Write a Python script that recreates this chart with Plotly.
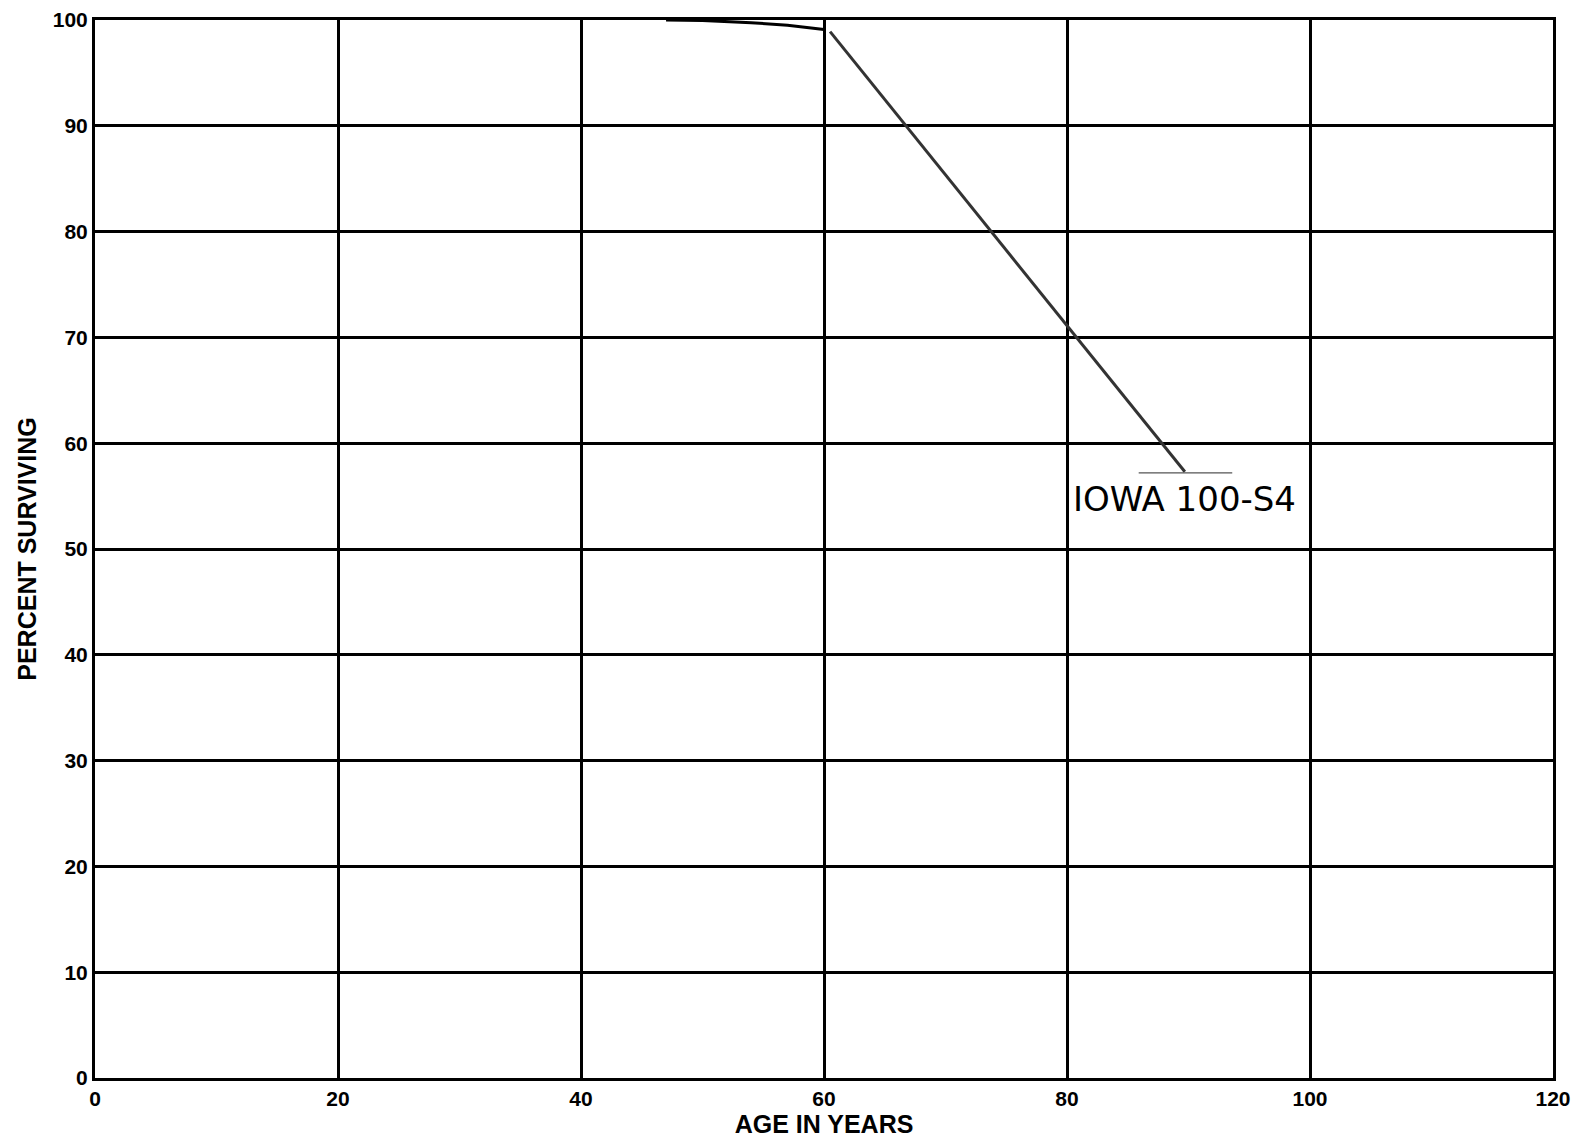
import plotly.graph_objects as go

# Survivor curve
age_top = [47, 50, 54, 57, 60]
surv_top = [100.0, 99.95, 99.75, 99.5, 99.1]
age_drop = [60.5, 65, 70, 75, 80, 85, 89.7]
surv_drop = [98.9, 92.5, 85.4, 78.3, 71.1, 64.0, 57.3]
label_line_x = [85.9, 93.6]
label_line_y = [57.2, 57.2]
label_text = "IOWA 100-S4"

x_ticks = [0, 20, 40, 60, 80, 100, 120]
y_ticks = [0, 10, 20, 30, 40, 50, 60, 70, 80, 90, 100]

fig = go.Figure()
fig.add_trace(go.Scatter(x=age_top, y=surv_top, mode="lines",
                         line=dict(color="black", width=3), showlegend=False))
fig.add_trace(go.Scatter(x=age_drop, y=surv_drop, mode="lines",
                         line=dict(color="#333", width=3), showlegend=False))
fig.add_trace(go.Scatter(x=label_line_x, y=label_line_y, mode="lines",
                         line=dict(color="#555", width=1.2), showlegend=False))
fig.add_annotation(x=80.3, y=54.7, text=label_text, showarrow=False,
                   xanchor="left", yanchor="middle",
                   font=dict(family="DejaVu Sans", size=34, color="black"))

axis_common = dict(showgrid=True, gridcolor="black", gridwidth=3,
                   showline=True, linecolor="black", linewidth=3, mirror=True,
                   zeroline=False, ticks="", automargin=False,
                   ticklabeloverflow="allow",
                   tickfont=dict(family="Liberation Sans", size=21, color="black", weight="bold"))

title_font = dict(family="Liberation Sans", size=25, color="black", weight="bold")

fig.update_xaxes(range=[0, 120], tickvals=x_ticks,
                 title=dict(text="AGE IN YEARS", standoff=7, font=title_font),
                 **axis_common)
fig.update_yaxes(range=[0, 100], tickvals=y_ticks,
                 title=dict(text="PERCENT SURVIVING", standoff=10, font=title_font),
                 **axis_common)

fig.update_layout(width=1573, height=1144, margin=dict(l=95, r=20, t=20, b=66),
                  plot_bgcolor="white", paper_bgcolor="white", hovermode=False)

fig.write_html("out.html", config={"displayModeBar": False, "staticPlot": True},
               post_script="document.body.style.margin='0';document.body.style.overflow='hidden';")
